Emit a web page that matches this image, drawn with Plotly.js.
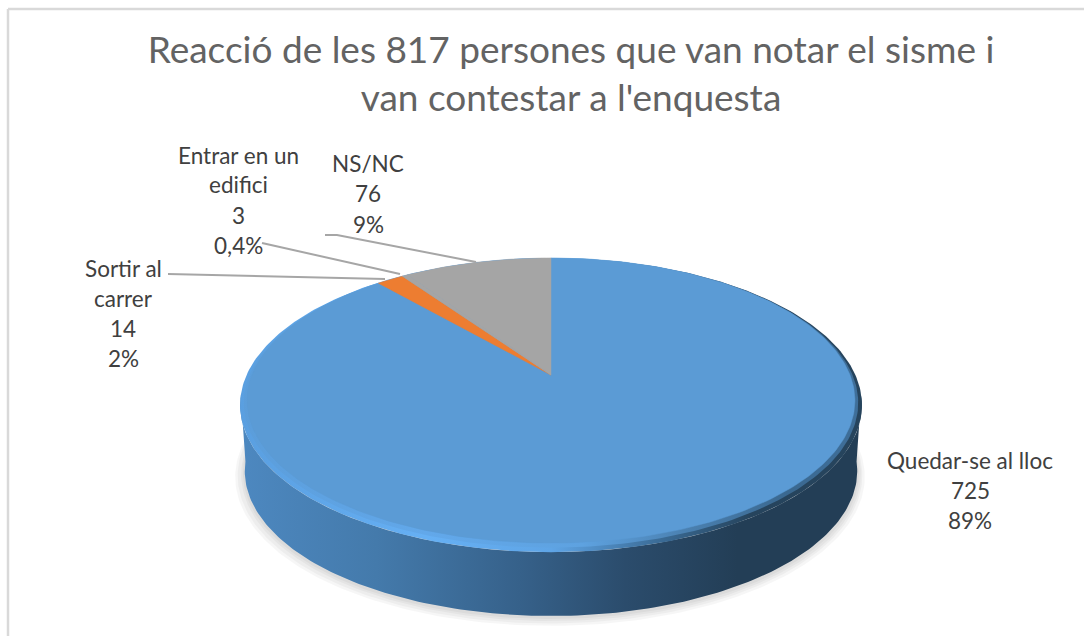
<!DOCTYPE html>
<html>
<head>
<meta charset="utf-8">
<script src="https://cdn.plot.ly/plotly-3.0.1.min.js"></script>
<style>html,body{margin:0;padding:0;background:#fff}#chart{width:1084px;height:636px}</style>
</head>
<body>
<div id="chart"></div>
<script>
// ---- data ----
const categories = ['Quedar-se al lloc', 'Sortir al carrer', 'Entrar en un edifici', 'NS/NC'];
const values = [725, 14, 3, 76];
const percentLabels = ['89%', '2%', '0,4%', '9%'];
const nameLines = [['Quedar-se al lloc'], ['Sortir al', 'carrer'], ['Entrar en un', 'edifici'], ['NS/NC']];
const sliceColors = ['#5b9bd5', '#ed7d31', '#a5a5a5', '#a5a5a5'];
const titleText = "Reacció de les 817 persones que van notar el sisme i<br>van contestar a l'enquesta";

// ---- drawing geometry (perspective view of a circular disc) ----
const cx = 551;
const faceView = {R: 299, k: 138, p: 0.179, cy: 375};
const midView  = {R: 301.5, k: 139.5, p: 0.192, cy: 375};
const rimView  = {R: 304.4, k: 141, p: 0.204, cy: 375};
const baseView = {R: 299.8, k: 138.9, p: 0.204, cy: 441.5};
const labelCentres = [[970, [460, 490, 520]], [123, [268, 298, 328, 358]], [238, [155, 184, 215, 245]], [368, [163, 193, 224]]];
const leaderXs = [[168, 385], [262, 400], [325, 337, 476]];
const leaderYs = [[274, 279], [243, 274], [235, 235, 262]];

function pt(deg, v) {
  const a = deg * Math.PI / 180, w = 1 + v.p * Math.cos(a);
  return [cx + v.R * Math.sin(a) / w, v.cy - v.k * Math.cos(a) / w];
}
function arc(from, to, v) {
  const xs = [], ys = [], n = Math.max(2, Math.ceil(Math.abs(to - from)));
  for (let i = 0; i <= n; i++) {
    const p = pt(from + (to - from) * i / n, v);
    xs.push(p[0]); ys.push(p[1]);
  }
  return [xs, ys];
}
function disc(v, scale, dx, dy) {
  const [xs, ys] = arc(0, 360, v);
  return [xs.map(x => cx + (x - cx) * scale + dx), ys.map(y => v.cy + (y - v.cy) * scale + dy)];
}
const base = {mode: 'lines', fill: 'toself', hoverinfo: 'skip', showlegend: false};
const traces = [];

// soft shadow under the disc
[[1.028, -1, 5], [1.02, -1, 4], [1.012, 0, 3], [1.006, 0, 2]].forEach(s => {
  const [x, y] = disc(baseView, s[0], s[1], s[2]);
  traces.push({...base, x, y, line: {width: 0}, fillcolor: 'rgba(0,0,0,0.035)'});
});

// side wall
const frontTop = arc(98, 262, rimView), frontBot = arc(262, 98, baseView);
traces.push({...base,
  x: frontTop[0].concat(frontBot[0]), y: frontTop[1].concat(frontBot[1]),
  line: {width: 0},
  fillgradient: {type: 'horizontal', start: 240, stop: 862, colorscale: [
    [0, '#4d88c0'], [0.22, '#447aab'], [0.45, '#36618a'], [0.62, '#2b4c6c'], [0.8, '#233e56'], [1, '#233e56']]}
});

// bevel around the top face
const rimDisc = disc(rimView, 1, 0, 0);
traces.push({...base, x: rimDisc[0], y: rimDisc[1], line: {width: 0},
  fillgradient: {type: 'horizontal', start: 240, stop: 862, colorscale: [
    [0, '#5a9fe0'], [0.3, '#66b0f4'], [0.5, '#5fa5e6'], [0.68, '#3a6a94'], [0.82, '#26445d'], [1, '#26445d']]}
});
const midDisc = disc(midView, 1, 0, 0);
traces.push({...base, x: midDisc[0], y: midDisc[1], line: {width: 0},
  fillgradient: {type: 'horizontal', start: 240, stop: 862, colorscale: [
    [0, '#5b9dda'], [0.3, '#62a8ea'], [0.55, '#5ea2e0'], [0.72, '#4a80b0'], [0.88, '#3a6890'], [1, '#3f6f9a']]}
});

// top face: one wedge per category, clockwise from 12 o'clock
const total = values.reduce((a, b) => a + b, 0);
let start = 0;
values.forEach((val, i) => {
  const end = start + val / total * 360;
  const [ax, ay] = arc(start, end, faceView);
  traces.push({...base, name: categories[i],
    x: [cx].concat(ax, [cx]), y: [faceView.cy].concat(ay, [faceView.cy]),
    line: {width: 0.5, color: sliceColors[i]}, fillcolor: sliceColors[i],
    hoverinfo: 'text', text: categories[i] + ': ' + val + ' (' + percentLabels[i] + ')'});
  start = end;
});

// leader lines
leaderXs.forEach((x, i) => traces.push({mode: 'lines', x, y: leaderYs[i], hoverinfo: 'skip', showlegend: false,
  line: {color: '#a6a6a6', width: 2}}));

// data labels, one annotation per line so the line pitch matches
const annotations = [];
categories.forEach((c, i) => {
  const lines = nameLines[i].concat([String(values[i]), percentLabels[i]]);
  lines.forEach((t, j) => annotations.push({
    x: labelCentres[i][0], y: labelCentres[i][1][j], xref: 'x', yref: 'y', text: t, showarrow: false,
    xanchor: 'center', yanchor: 'middle', font: {family: 'Lato, sans-serif', size: 22.5, color: '#404040'}
  }));
});

const layout = {
  width: 1084, height: 636,
  margin: {l: 0, r: 0, t: 0, b: 0},
  paper_bgcolor: '#ffffff', plot_bgcolor: '#ffffff',
  showlegend: false,
  hovermode: 'closest',
  title: {text: titleText, x: 571 / 1084, xanchor: 'center', y: 0.901, yanchor: 'top', xref: 'paper', yref: 'container',
    font: {family: 'Lato, sans-serif', size: 37, color: '#636363'}},
  xaxis: {range: [0, 1084], visible: false, fixedrange: true},
  yaxis: {range: [636, 0], visible: false, fixedrange: true},
  annotations,
  shapes: [
    {type: 'line', x0: 8, x1: 1084, y0: 9, y1: 9, line: {color: '#d9d9d9', width: 2.5}},
    {type: 'line', x0: 8, x1: 8, y0: 9, y1: 636, line: {color: '#d9d9d9', width: 2.5}}
  ]
};
Plotly.newPlot('chart', traces, layout, {displayModeBar: false});
</script>
</body>
</html>
